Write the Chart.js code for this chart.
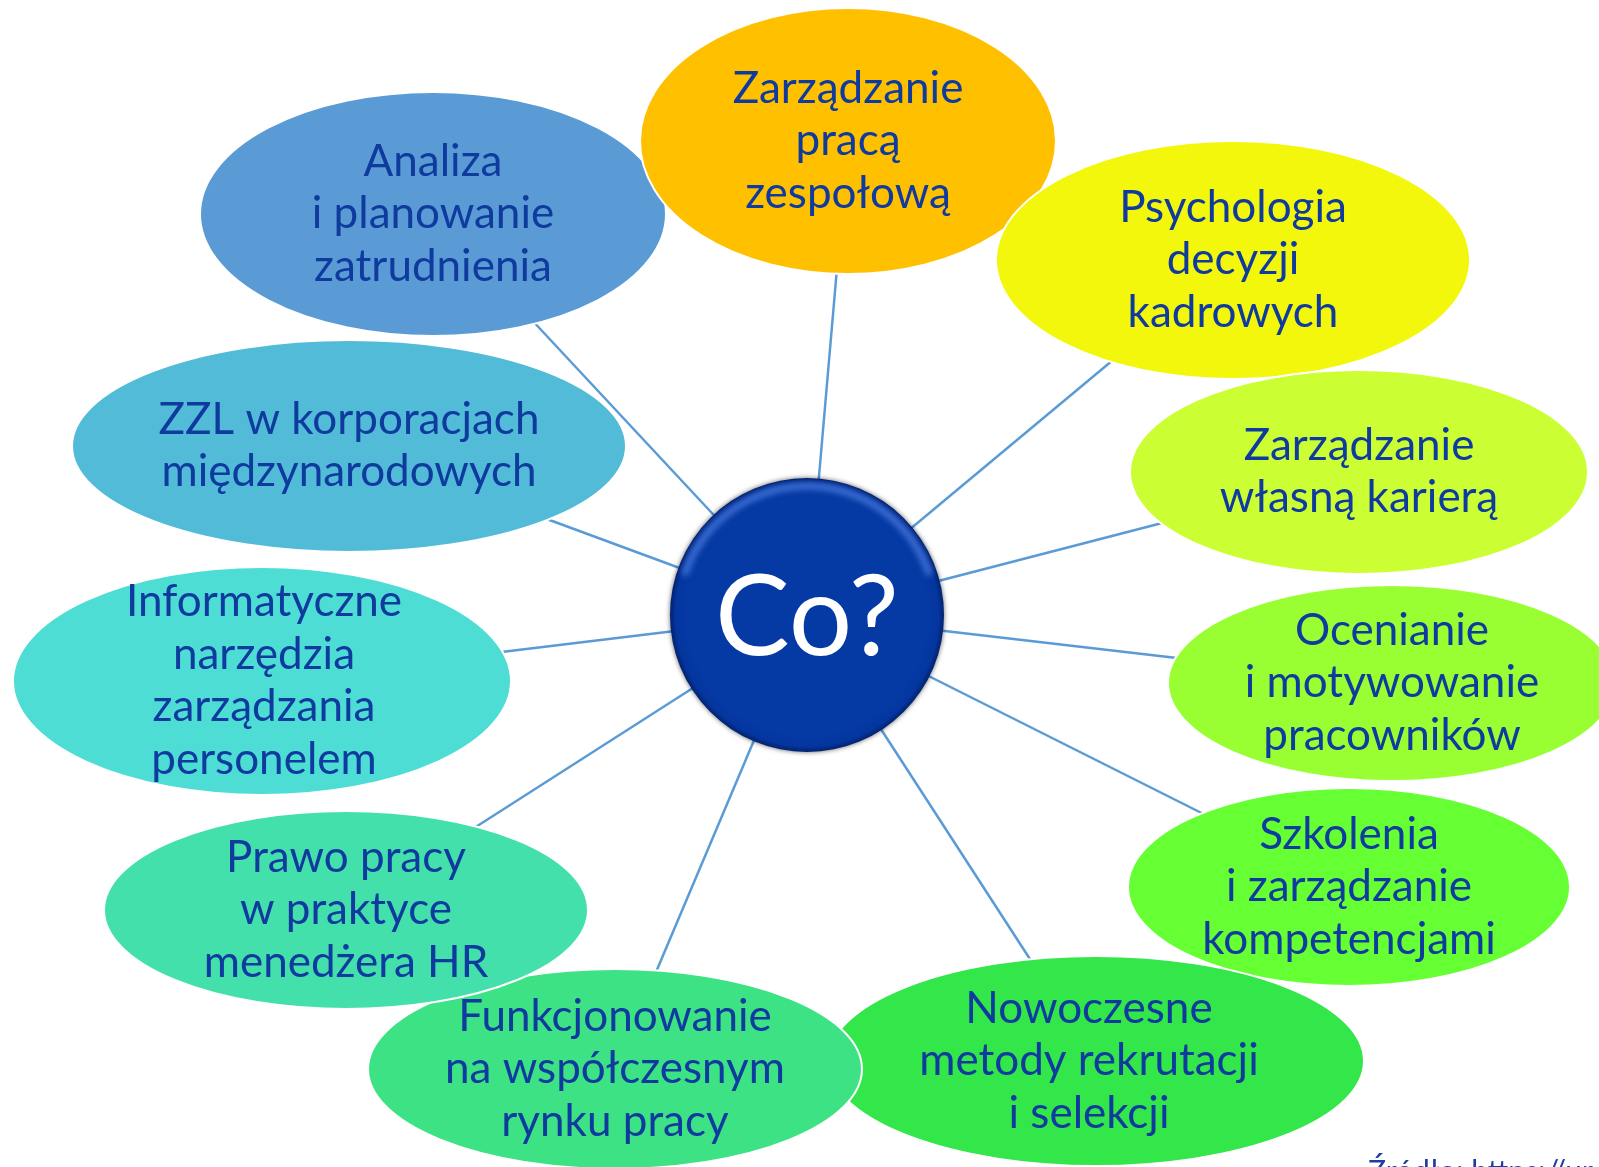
<!DOCTYPE html>
<html lang="pl">
<head>
<meta charset="utf-8">
<title>Co?</title>
<script src="https://cdn.jsdelivr.net/npm/chart.js@4.4.1/dist/chart.umd.min.js"></script>
<style>
  html, body { margin: 0; padding: 0; background: #ffffff; overflow: hidden; }
  #wrap { width: 1599px; height: 1167px; position: relative; }
</style>
</head>
<body>
<div id="wrap"><canvas id="mapa" width="1599" height="1167"></canvas></div>
<script>
// tematy wokol srodka (kolejnosc = kolejnosc rysowania)
const nodeLabels = [
  ['Analiza', 'i planowanie', 'zatrudnienia'],
  ['Zarządzanie', 'pracą', 'zespołową'],
  ['Psychologia', 'decyzji', 'kadrowych'],
  ['Zarządzanie', 'własną karierą'],
  ['Ocenianie', 'i motywowanie', 'pracowników'],
  ['Szkolenia', 'i zarządzanie', 'kompetencjami'],
  ['Nowoczesne', 'metody rekrutacji', 'i selekcji'],
  ['Funkcjonowanie', 'na współczesnym', 'rynku pracy'],
  ['Prawo pracy', 'w praktyce', 'menedżera HR'],
  ['Informatyczne', 'narzędzia', 'zarządzania', 'personelem'],
  ['ZZL w korporacjach', 'międzynarodowych']
];
const nodeX  = [433, 848, 1233, 1359, 1392, 1349, 1096, 615, 346, 262, 349];
const nodeY  = [214, 141, 260, 472, 683, 887, 1061, 1069, 910, 681, 446];
const nodeRX = [233, 208, 237, 229, 224, 221, 268, 247, 242, 249, 277];
const nodeRY = [122, 133, 119, 102, 98, 99, 105, 100, 99, 114, 106];
const nodeColors = ['#5B9BD5', '#FFC000', '#F3F70B', '#CCFF33', '#99FF33', '#66FF33',
                    '#33E64A', '#3DE285', '#44E0AC', '#4DDDD5', '#52BBD8'];
const labelShift = [0, 0, 0, 0, 0, 0, -7, 0, 0, 2, 0];

const hubLabel = 'Co?';
const hubX = 807, hubY = 615, hubR = 137;
const sourceText = 'Źródło: https://ur';

const textColor = '#0F3A9E';
const lineColor = '#5B9BD5';

// linie od srodka do kazdego tematu
const connectors = nodeX.map((x, i) => ({
  type: 'scatter',
  data: [{ x: hubX, y: hubY }, { x: x, y: nodeY[i] }],
  showLine: true,
  borderColor: lineColor,
  borderWidth: 2.5,
  pointRadius: 0,
  clip: false
}));

const bubbles = {
  id: 'bubbles',
  afterDatasetsDraw(chart) {
    const ctx = chart.ctx;
    const xs = chart.scales.x, ys = chart.scales.y;

    nodeX.forEach((nx, i) => {
      const cx = xs.getPixelForValue(nx);
      const cy = ys.getPixelForValue(nodeY[i]);
      const rx = Math.abs(xs.getPixelForValue(nx + nodeRX[i]) - cx);
      const ry = Math.abs(ys.getPixelForValue(nodeY[i] + nodeRY[i]) - cy);
      ctx.save();
      ctx.beginPath();
      ctx.ellipse(cx, cy, rx, ry, 0, 0, Math.PI * 2);
      ctx.fillStyle = nodeColors[i];
      ctx.fill();
      ctx.lineWidth = 2;
      ctx.strokeStyle = '#ffffff';
      ctx.stroke();

      ctx.fillStyle = textColor;
      ctx.font = '44px Lato, "Open Sans", sans-serif';
      ctx.textAlign = 'center';
      ctx.textBaseline = 'middle';
      const lh = 52.5;
      const lines = nodeLabels[i];
      const top = cy - (lines.length - 1) * lh / 2;
      lines.forEach((t, k) => ctx.fillText(t, cx + labelShift[i], top + k * lh));
      ctx.restore();
    });

    // srodkowe kolo
    const hx = xs.getPixelForValue(hubX);
    const hy = ys.getPixelForValue(hubY);
    ctx.save();
    ctx.shadowColor = 'rgba(0,0,0,0.6)';
    ctx.shadowBlur = 5;
    ctx.beginPath();
    ctx.arc(hx, hy, hubR, 0, Math.PI * 2);
    const g = ctx.createRadialGradient(hx, hy, hubR * 0.86, hx, hy, hubR);
    g.addColorStop(0, '#0539A3');
    g.addColorStop(0.7, '#0436A0');
    g.addColorStop(1, '#02226E');
    ctx.fillStyle = g;
    ctx.fill();
    ctx.shadowBlur = 0;

    // jasny polysk przy gornej krawedzi
    ctx.save();
    ctx.beginPath();
    ctx.arc(hx, hy, hubR - 1, 0, Math.PI * 2);
    ctx.clip();
    ctx.filter = 'blur(3px)';
    ctx.beginPath();
    ctx.arc(hx, hy, hubR - 8, Math.PI * 1.1, Math.PI * 1.9);
    ctx.strokeStyle = 'rgba(90,140,240,0.75)';
    ctx.lineWidth = 6;
    ctx.stroke();
    ctx.restore();

    ctx.fillStyle = '#ffffff';
    ctx.font = '112px Lato, "Open Sans", sans-serif';
    ctx.textAlign = 'center';
    ctx.textBaseline = 'middle';
    ctx.fillText(hubLabel, hx, hy + 4);
    ctx.restore();

    // zrodlo (uciete u dolu)
    ctx.save();
    ctx.fillStyle = '#1F3D9E';
    ctx.font = '30px Lato, sans-serif';
    ctx.textAlign = 'left';
    ctx.textBaseline = 'alphabetic';
    ctx.fillText(sourceText, 1368, 1182);
    ctx.restore();
  }
};

new Chart(document.getElementById('mapa'), {
  type: 'scatter',
  data: { datasets: connectors },
  options: {
    responsive: false,
    animation: false,
    events: [],
    layout: { padding: 0 },
    plugins: { legend: { display: false }, tooltip: { enabled: false } },
    scales: {
      x: { type: 'linear', min: 0, max: 1599, display: false },
      y: { type: 'linear', min: 0, max: 1167, reverse: true, display: false }
    }
  },
  plugins: [bubbles]
});
</script>
</body>
</html>
